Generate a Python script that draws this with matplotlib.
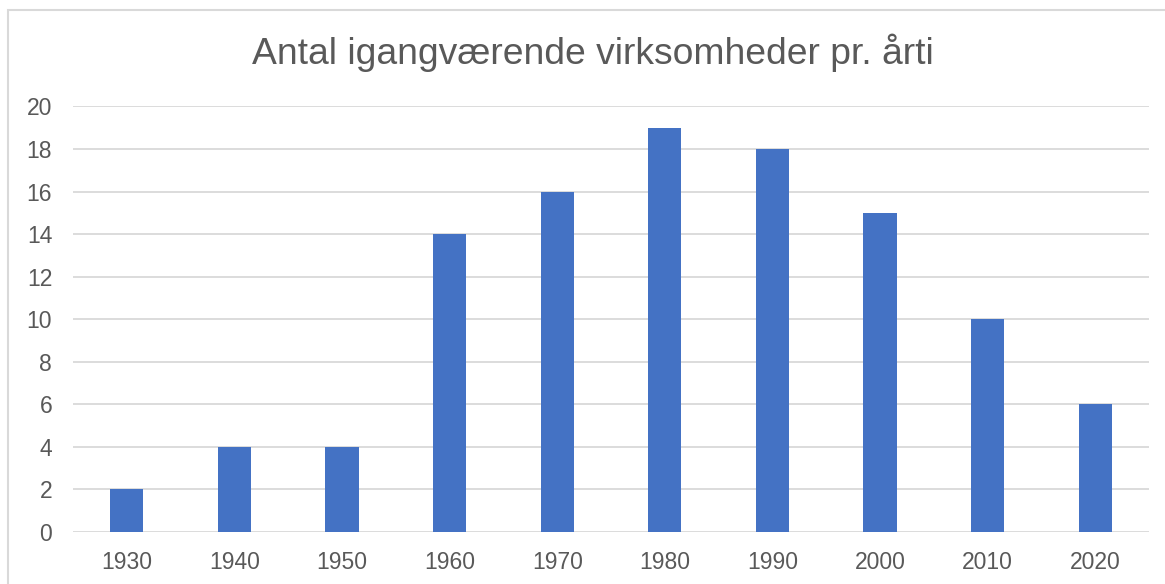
import matplotlib
matplotlib.use('Agg')
import matplotlib.pyplot as plt
from matplotlib.patches import Rectangle

decades = ['1930', '1940', '1950', '1960', '1970', '1980', '1990', '2000', '2010', '2020']
counts = [2, 4, 4, 14, 16, 19, 18, 15, 10, 6]
yticks = list(range(0, 21, 2))

plt.rcParams['font.family'] = ['Liberation Sans', 'DejaVu Sans']

fig = plt.figure(figsize=(11.65, 5.84), dpi=100)
ax = fig.add_axes([73 / 1165, 1 - 532 / 584, (1149 - 73) / 1165, (532 - 106.5) / 584])

x = range(len(decades))
ax.bar(x, counts, width=0.31, color='#4472C4', zorder=3)

ax.set_xlim(-0.5, len(decades) - 0.5)
ax.set_ylim(0, 20)
ax.set_yticks(yticks)
ax.set_xticks(list(x))
ax.set_xticklabels(decades)
ax.tick_params(axis='both', length=0, labelsize=16.5, colors='#595959')
ax.tick_params(axis='x', pad=14)
ax.tick_params(axis='y', pad=15)
ax.grid(axis='y', color='#D9D9D9', linewidth=1.3, zorder=0)
for s in ax.spines.values():
    s.set_visible(False)

fig.text(593 / 1165, 1 - 53 / 584, 'Antal igangværende virksomheder pr. årti',
         ha='center', va='center', fontsize=26.8, color='#595959')

# chart area border
fig.patches.append(Rectangle((8 / 1165, -0.01), 1.0, 1 - 10 / 584 + 0.01,
                             transform=fig.transFigure, fill=False,
                             edgecolor='#D9D9D9', linewidth=1.5))

fig.savefig('out.png', dpi=100)
